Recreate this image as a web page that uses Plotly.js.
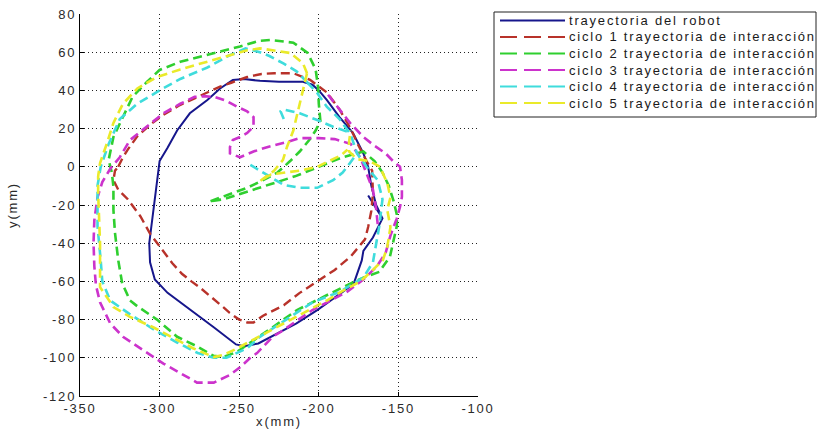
<!DOCTYPE html>
<html>
<head>
<meta charset="utf-8">
<script src="https://cdn.plot.ly/plotly-3.0.1.min.js"></script>
<style>
  html, body { margin: 0; padding: 0; background: #fff; }
  #chart { width: 822px; height: 431px; }
  svg text { letter-spacing: 1.8px; }
</style>
</head>
<body>
<div id="chart"></div>
<script>
// Robot path (solid) and the five interaction cycles (dashed), in mm.
const robotX = [-169,-160,-166,-172,-173,-175,-178,-185,-201,-214,-228,-238,-247,-252,-266,-287,-295,-303,-306,-306.5,-305,-303.5,-302,-300,-295,-289,-281,-270,-262,-254,-247,-237,-225,-210,-204,-200,-195,-187,-178.5,-172,-169,-167,-164,-160];
const robotY = [-15,-27,-37,-44,-49,-54,-61,-65.5,-75,-82,-88,-92.5,-94,-93,-84,-71,-66,-59,-50,-40,-30,-19,-8,3,10,19,28,35,41,45.5,46,45,44.5,44.5,43,40,35,26,17.7,7,0,-10,-20,-27];

const cycle1X = [-326,-323,-320,-314,-306,-298,-288,-278,-270,-262,-255,-245,-236,-228,-216,-205.5,-195,-187,-180,-175,-170,-166.5,-166,-167,-169,-171,-180,-190,-201,-212,-222,-235,-241,-245,-250,-256,-260,-267,-275,-280,-286,-292,-300,-306,-312,-320,-326,-329,-328,-326];
const cycle1Y = [0,5,9,16,22,27,32,36,39,42,44,47,48.6,49,49,45.5,39,30,20,11,3,-2,-14,-23,-31.5,-38,-47,-54,-60,-66,-72.5,-78,-81.5,-81.5,-80,-76.5,-73.5,-68.5,-63,-60,-56,-50.5,-42,-35,-26,-17,-12,-7,-2,0];

const cycle2X = [-268,-258,-245,-235,-226,-218,-212,-206,-202,-199,-200,-200.5,-202,-207,-216,-230,-237,-249.5,-266,-287,-300,-308,-317,-323,-329,-332,-330,-329,-329,-328,-326,-323.5,-318.6,-314,-301.6,-289,-276.5,-266,-260,-251.6,-241,-230.7,-213.7,-197.4,-184.8,-172,-162,-155.3,-153,-151,-151,-153,-156,-160,-165,-172,-185,-200,-215,-230,-245,-260,-268];
const cycle2Y = [-18,-15,-11,-7,-3,3,8,14,19,24,33,42,51,59.6,65,66.4,66,63,59.6,55,50.7,44.4,36.6,26,15.6,3.6,-3,-10.5,-22.6,-34.7,-48.8,-61,-70,-73,-80,-89,-94,-99,-99.6,-97,-90.7,-85,-75,-68,-63,-58,-55,-47,-38,-31,-25,-18,-10,-3,3,8,5,0,-5,-9,-13,-17,-18];

const cycle3X = [-163,-164,-166,-170,-174,-180,-190,-200,-212,-220,-232,-241,-249.5,-255.8,-255.8,-254,-249.5,-245,-241,-241,-245,-251.4,-258,-265,-272,-278,-287,-297.6,-308,-318.6,-325,-331,-336,-339,-341,-341.5,-341,-340,-337.4,-331,-323,-308,-297.6,-287,-276.5,-266,-255.8,-249.5,-243,-238.8,-229,-224,-204,-182.3,-172,-163.4,-158,-155,-151,-149,-147.8,-147.8,-149,-153.4,-158,-165,-172,-180.4,-188.6,-195];
const cycle3Y = [-30,-22,-12,-3,5,12,14.5,15,15,13,10.4,8,5,7,10.4,14,15.6,17.7,21,26,29,31.5,34.5,36.5,37,36.6,33,28,21,14,5,-1,-8,-16,-28,-40,-52,-62,-71,-82,-89,-97.5,-103,-108,-113,-113,-109,-105,-100,-97.5,-89,-86.5,-75,-65.5,-59,-52,-45,-36,-27,-21,-15.8,-7,0,3,7,11,15.6,23,31.5,38.6];

const cycle4X = [-207,-214,-222,-231,-237,-246,-257,-270,-287,-300,-314,-325,-332,-337,-339,-339,-337,-336,-331,-319,-304,-289,-276,-266,-258,-250,-245,-237,-224,-204,-187,-172,-166,-164,-162,-160,-163,-170,-176,-180,-187,-195,-201,-207,
  null,-222,-224,-222,-212,-201,-191,-180,
  null,-243,-237,-231,-222,-212,-201,-191,-185,-180.4,-176];
const cycle4Y = [44,50,54,58,60,62,58,52,46,40,33,25,12,0,-10,-31,-49,-60,-70,-77,-85,-92,-97.5,-100,-100,-97,-95,-89,-82,-71,-65.5,-58,-50,-40,-31,-17,-7,0,7,17,25,31.5,38.6,44,
  null,25,29,30,28,24.5,21,17.7,
  null,1,-2,-5,-9.5,-11,-11,-7,-3,2,7];

const cycle5X = [-207.4,-210,-218,-230.7,-237,-245,-260,-274.6,-287,-301.6,-314,-323,-329,-333,-337.4,-338.6,-338.6,-338,-337.4,-337.4,-337.4,-329,-318.6,-304,-289,-279,-266,-260,-253.5,-240,-226,-210,-195,-185,-174,-168,-159.7,-157,-155,-157,-155,-157,-161.6,-168,-176,-181,-181,-180,
  null,-207.4,-210,-212,-216,-220,-222.5,-228,-234,-237,-230,-222,-212,-201,-193,-186,-182];
const cycle5Y = [49,54.3,59.6,61,62,61,57.5,54.3,51,47,41,33,23,12.5,2,-5,-14,-27,-40,-54,-63,-73.4,-78.6,-84,-90.7,-95,-99.6,-98.5,-96,-90,-84,-77,-70,-65,-60,-55.6,-48.8,-42,-31.5,-22.6,-16,-8.5,0,3,4,8,13,19,
  null,49,40,33,19,10.4,3.6,-2,-6,-7.5,-4,-3,-2,0,3,6,9];

const seriesNames = ['trayectoria del robot','ciclo 1 trayectoria de interacción','ciclo 2 trayectoria de interacción','ciclo 3 trayectoria de interacción','ciclo 4 trayectoria de interacción','ciclo 5 trayectoria de interacción'];
const xTicks = [-350,-300,-250,-200,-150,-100];
const yTicks = [-120,-100,-80,-60,-40,-20,0,20,40,60,80];

const colors = ['#16168c','#b8322a','#2fcf2f','#cc33cc','#3fdcdc','#eaea2a'];
const DASH = '9px,5px';
const styles = [
  {color: colors[0], width: 2, dash: 'solid'},
  {color: colors[1], width: 2.4, dash: DASH},
  {color: colors[2], width: 2.6, dash: DASH},
  {color: colors[3], width: 2.6, dash: DASH},
  {color: colors[4], width: 2.6, dash: DASH},
  {color: colors[5], width: 2.6, dash: DASH}
];
const xs = [robotX, cycle1X, cycle2X, cycle3X, cycle4X, cycle5X];
const ys = [robotY, cycle1Y, cycle2Y, cycle3Y, cycle4Y, cycle5Y];

const traces = xs.map((x, i) => ({
  type: 'scatter', mode: 'lines', x: x, y: ys[i], name: seriesNames[i],
  line: styles[i], connectgaps: false, hoverinfo: 'skip'
}));

// Plot area in pixels: left 80, right 478, top 14, bottom 396
const L = 80, R = 478, T = 14, B = 396;
const px = v => (v - L) / (R - L);
const py = v => (B - v) / (B - T);

const FONT = 'Liberation Sans, Arial, sans-serif';
const shapes = [];
const annotations = [];

// Legend box with line samples and labels
shapes.push({type: 'rect', xref: 'paper', yref: 'paper',
  x0: px(494), x1: px(816), y0: py(12), y1: py(117),
  line: {color: '#222', width: 1}, fillcolor: '#fff', layer: 'above'});
const rowY = [20.5, 37, 53.5, 70, 86.5, 103];
seriesNames.forEach((name, i) => {
  shapes.push({type: 'line', xref: 'paper', yref: 'paper',
    x0: px(500), x1: px(565), y0: py(rowY[i]), y1: py(rowY[i]),
    line: {color: styles[i].color, width: 2, dash: i === 0 ? 'solid' : '17px,7px'}, layer: 'above'});
  annotations.push({xref: 'paper', yref: 'paper', x: px(567), y: py(rowY[i]),
    xanchor: 'left', yanchor: 'middle', showarrow: false, text: name,
    font: {family: FONT, size: 13, color: '#1a1a1a'}});
});

const axisCommon = {
  showgrid: true, gridcolor: '#222', griddash: '1px,3px', gridwidth: 1,
  zeroline: false, showline: true, linecolor: '#000', linewidth: 1.2,
  ticks: 'inside', ticklen: 4, tickcolor: '#000', mirror: false,
  tickfont: {family: FONT, size: 13, color: '#2a2a2a'}, fixedrange: true
};

const layout = {
  width: 822, height: 431,
  margin: {l: L, r: 822 - R, t: T, b: 431 - B},
  paper_bgcolor: '#fff', plot_bgcolor: '#fff',
  showlegend: false,
  font: {family: FONT, size: 13, color: '#2a2a2a'},
  xaxis: Object.assign({}, axisCommon, {
    range: [-350, -100], tickvals: xTicks, ticktext: xTicks.map(String),
    title: {text: 'x(mm)', standoff: 2, font: {family: FONT, size: 13, color: '#2a2a2a'}}
  }),
  yaxis: Object.assign({}, axisCommon, {
    range: [-120, 80], tickvals: yTicks, ticktext: yTicks.map(String),
    title: {text: 'y(mm)', standoff: 22, font: {family: FONT, size: 13, color: '#2a2a2a'}}
  }),
  shapes: shapes,
  annotations: annotations
};

Plotly.newPlot('chart', traces, layout, {displayModeBar: false, staticPlot: true});
</script>
</body>
</html>
